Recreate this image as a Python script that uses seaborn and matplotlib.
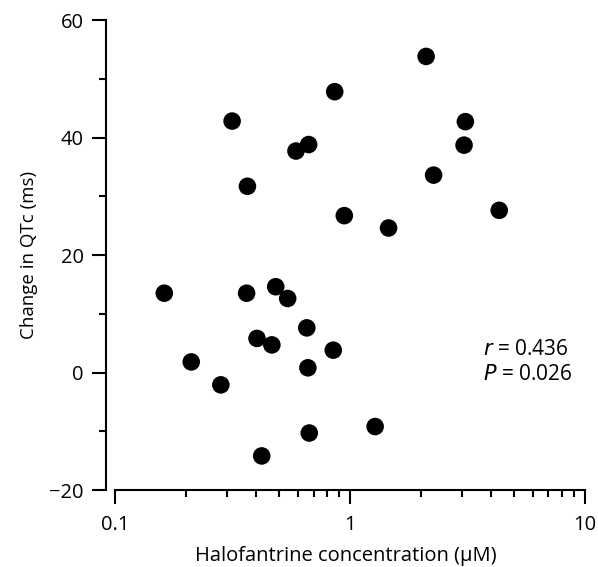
import numpy as np
import pandas as pd
import seaborn as sns
import matplotlib.pyplot as plt
from matplotlib.ticker import LogLocator, MultipleLocator, FixedLocator, NullFormatter

# halofantrine concentration (uM) vs change in QTc (ms)
conc = [0.162, 0.363, 0.483, 0.543, 0.655, 0.402, 0.465, 0.849, 0.662, 0.211,
        0.282, 0.671, 0.421, 0.861, 0.315, 0.667, 0.589, 0.366, 0.946, 1.46,
        2.11, 3.10, 3.06, 2.27, 4.32, 1.28]
dqtc = [13.5, 13.5, 14.6, 12.6, 7.6, 5.8, 4.7, 3.8, 0.8, 1.8,
        -2.1, -10.3, -14.2, 47.8, 42.8, 38.8, 37.7, 31.7, 26.7, 24.6,
        53.8, 42.7, 38.7, 33.6, 27.6, -9.2]
yticks = [-20, 0, 20, 40, 60]
xticks = [0.1, 1, 10]
xticklabels = ['0.1', '1', '10']

df = pd.DataFrame({'conc': conc, 'dqtc': dqtc})

sns.set_style('ticks', {'text.color': 'black', 'axes.labelcolor': 'black',
                        'xtick.color': 'black', 'ytick.color': 'black',
                        'axes.edgecolor': 'black'})
plt.rcParams['font.family'] = ['Open Sans', 'DejaVu Sans']

fig = plt.figure(figsize=(5.98, 5.67), dpi=100)
ax = fig.add_axes([0.1773, 0.1358, 0.8007, 0.8289])

sns.scatterplot(data=df, x='conc', y='dqtc', ax=ax, color='black', s=160,
                edgecolor='none', linewidth=0)

ax.set_xscale('log')
ax.set_xlim(0.0915, 10)
ax.set_ylim(-20, 60)

ax.xaxis.set_major_locator(FixedLocator(xticks))
ax.set_xticklabels(xticklabels)
ax.xaxis.set_minor_locator(LogLocator(base=10, subs=np.arange(2, 10)))
ax.xaxis.set_minor_formatter(NullFormatter())
ax.set_yticks(yticks)
ax.yaxis.set_minor_locator(MultipleLocator(10))

for s in ['top', 'right']:
    ax.spines[s].set_visible(False)
ax.spines['bottom'].set_bounds(0.1, 10)
ax.spines['left'].set_bounds(-20, 60)
for s in ['bottom', 'left']:
    ax.spines[s].set_linewidth(1.5)

ax.tick_params(which='major', length=10, width=1.5, labelsize=14.5,
               color='black', labelcolor='black')
ax.tick_params(which='minor', length=5, width=1.5, color='black')
ax.tick_params(axis='y', which='major', pad=6)
ax.tick_params(axis='x', which='major', pad=8)

ax.set_xlabel('Halofantrine concentration (µM)', fontsize=14.5, labelpad=8, color='black')
ax.set_ylabel('Change in QTc (ms)', fontsize=13.5, labelpad=8, color='black')

ax.text(3.68, 3.0, r'$\it{r}$ = 0.436', fontsize=15, va='baseline', color='black')
ax.text(3.68, -1.3, r'$\it{P}$ = 0.026', fontsize=15, va='baseline', color='black')

fig.savefig('out.png', dpi=100)
